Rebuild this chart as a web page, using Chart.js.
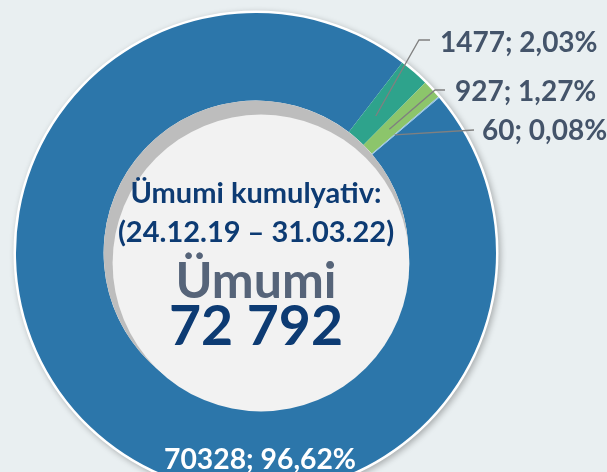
<!DOCTYPE html>
<html>
<head>
<meta charset="utf-8">
<script src="https://cdn.jsdelivr.net/npm/chart.js@4.4.1/dist/chart.umd.min.js"></script>
<style>
  html, body { margin: 0; padding: 0; overflow: hidden; background: #e9eff1; }
  #wrap { position: absolute; left: 0; top: 0; width: 607px; height: 506px; }
</style>
</head>
<body>
<div id="wrap"><canvas id="donut"></canvas></div>
<script>
// chart data
const categories = ["Seqment 1", "Seqment 2", "Seqment 3", "Seqment 4"];
const values = [70328, 1477, 927, 60];
const colors = ["#2c76aa", "#2ea38c", "#8cc56b", "#8fc0e2"];
const titleLines = ["Ümumi kumulyativ:", "(24.12.19 – 31.03.22)"];
const totalCaption = "Ümumi";

const total = values.reduce((a, b) => a + b, 0);
const fmtPct = v => (v / total * 100).toFixed(2).replace(".", ",") + "%";
const fmtTotal = n => String(n).replace(/\B(?=(\d{3})+(?!\d))/g, " ");

// where each outside label sits: [elbow x, elbow y, line end x, text x, text baseline]
const labelSpots = {
  1: [419, 40, 430, 440, 52],
  2: [435, 90, 445, 455, 101],
  3: [null, null, 474, 482, 140]
};

const decorPlugin = {
  id: "decor",
  beforeDatasetsDraw(chart) {
    const arc = chart.getDatasetMeta(0).data[0];
    const ctx = chart.ctx;
    ctx.save();
    ctx.shadowColor = "rgba(0,0,0,0.28)";
    ctx.shadowBlur = 6;
    ctx.shadowOffsetX = 2;
    ctx.shadowOffsetY = 2;
    ctx.fillStyle = "#ffffff";
    ctx.beginPath();
    ctx.arc(arc.x, arc.y, arc.outerRadius + 2.5, 0, Math.PI * 2);
    ctx.fill();
    ctx.restore();
  },
  afterDatasetsDraw(chart) {
    const meta = chart.getDatasetMeta(0);
    const arc = meta.data[0];
    const ctx = chart.ctx;
    const cx = arc.x, cy = arc.y;

    // hole with shaded rim
    ctx.save();
    ctx.fillStyle = "#bdbdbd";
    ctx.beginPath();
    ctx.arc(cx, cy, arc.innerRadius, 0, Math.PI * 2);
    ctx.fill();
    ctx.fillStyle = "#f2f2f2";
    ctx.beginPath();
    ctx.arc(cx + 5, cy + 10, arc.innerRadius - 4, 0, Math.PI * 2);
    ctx.fill();
    ctx.restore();

    // centre text
    ctx.save();
    ctx.textAlign = "center";
    ctx.textBaseline = "alphabetic";
    ctx.fillStyle = "#0d3b73";
    ctx.font = "bold 29px Lato";
    ctx.fillText(titleLines[0], cx, 203, 258);
    ctx.fillText(titleLines[1], cx, 242, 280);
    ctx.fillStyle = "#566479";
    ctx.font = "bold 50px Lato";
    ctx.fillText(totalCaption, cx, 298, 174);
    ctx.fillStyle = "#0d3b73";
    ctx.font = "bold 56px Lato";
    ctx.fillText(fmtTotal(total), cx, 345, 174);

    // big slice label
    ctx.fillStyle = "#ffffff";
    ctx.font = "bold 29px Lato";
    ctx.fillText(values[0] + "; " + fmtPct(values[0]), cx + 4, 469, 192);
    ctx.restore();

    // small slice labels with leader lines
    ctx.save();
    ctx.strokeStyle = "#808080";
    ctx.lineWidth = 1.3;
    ctx.fillStyle = "#44546a";
    ctx.font = "bold 28px Lato";
    ctx.textAlign = "left";
    Object.keys(labelSpots).forEach(k => {
      const i = Number(k);
      const el = meta.data[i];
      const s = labelSpots[k];
      const mid = (el.startAngle + el.endAngle) / 2;
      const r = 182;
      const sx = cx + Math.cos(mid) * r, sy = cy + Math.sin(mid) * r;
      ctx.beginPath();
      ctx.moveTo(sx, sy);
      if (s[0] !== null) {
        ctx.lineTo(s[0], s[1]);
        ctx.lineTo(s[2], s[1]);
      } else {
        ctx.lineTo(s[2], s[4] - 10);
      }
      ctx.stroke();
      ctx.fillText(values[i] + "; " + fmtPct(values[i]), s[3], s[4]);
    });
    ctx.restore();
  }
};

function draw() {
  new Chart(document.getElementById("donut"), {
    type: "doughnut",
    data: {
      labels: categories,
      datasets: [{
        data: values,
        backgroundColor: colors,
        borderWidth: 0,
        hoverOffset: 0
      }]
    },
    options: {
      responsive: true,
      maintainAspectRatio: false,
      animation: false,
      cutout: "63.5%",
      rotation: 49.7,
      layout: { padding: { left: 16, right: 111, top: 13, bottom: 13 } },
      plugins: {
        legend: { display: false },
        tooltip: { enabled: false }
      }
    },
    plugins: [decorPlugin]
  });
}

if (document.fonts && document.fonts.load) {
  Promise.all([document.fonts.load("bold 24px Lato")]).then(draw, draw);
} else {
  draw();
}
</script>
</body>
</html>
